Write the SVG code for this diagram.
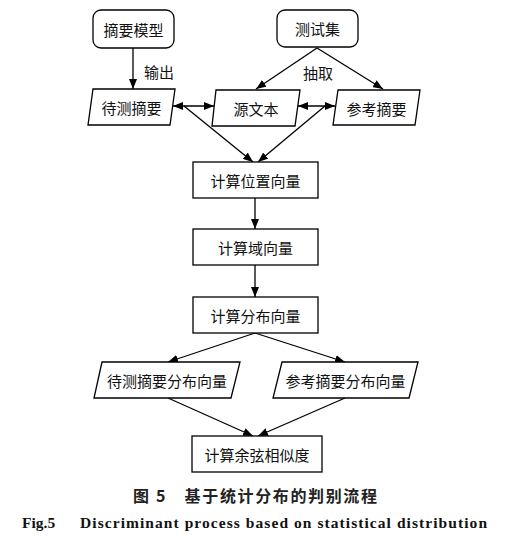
<svg xmlns="http://www.w3.org/2000/svg" width="505" height="543" viewBox="0 0 505 543">
<defs>
<marker id="ah" viewBox="0 0 10 8" refX="10" refY="4" markerWidth="10" markerHeight="8" markerUnits="userSpaceOnUse" orient="auto-start-reverse">
<path d="M0,0 L10,4 L0,8 Z" fill="#000"/>
</marker>
</defs>
<style>
.n{fill:#fff;stroke:#000;stroke-width:1.3}
.t{font-family:"Noto Sans CJK SC","Noto Sans",sans-serif;font-size:15px;fill:#111;text-anchor:middle;dominant-baseline:central}
.c line{stroke:#000;stroke-width:1.3}
</style>
<rect width="505" height="543" fill="#fff"/>
<g class="c">
<line x1="133" y1="48" x2="133" y2="89" marker-end="url(#ah)"/>
<line x1="317" y1="48" x2="256" y2="89" marker-end="url(#ah)"/>
<line x1="317" y1="48" x2="383" y2="89" marker-end="url(#ah)"/>
<line x1="173" y1="106" x2="214" y2="106" marker-start="url(#ah)" marker-end="url(#ah)"/>
<line x1="298" y1="106" x2="335" y2="106" marker-start="url(#ah)" marker-end="url(#ah)"/>
<line x1="184" y1="106" x2="253" y2="162" marker-end="url(#ah)"/>
<line x1="325" y1="106" x2="258" y2="162" marker-end="url(#ah)"/>
<line x1="255" y1="198" x2="255" y2="229" marker-end="url(#ah)"/>
<line x1="255" y1="265" x2="255" y2="297" marker-end="url(#ah)"/>
<line x1="255" y1="333" x2="168" y2="362" marker-end="url(#ah)"/>
<line x1="255" y1="333" x2="345" y2="362" marker-end="url(#ah)"/>
<line x1="168" y1="398" x2="253" y2="436" marker-end="url(#ah)"/>
<line x1="345" y1="398" x2="258" y2="436" marker-end="url(#ah)"/>
</g>
<text class="t" x="159" y="71">输出</text>
<text class="t" x="318" y="72">抽取</text>
<g id="n1"><rect class="n" x="93" y="10" width="81" height="38" rx="8"/><text class="t" x="133.5" y="29">摘要模型</text></g>
<g id="n2"><rect class="n" x="277" y="10" width="81" height="37" rx="8"/><text class="t" x="317.5" y="28.5">测试集</text></g>
<g id="n3"><polygon class="n" points="93,89 175,89 170,125 88,125"/><text class="t" x="131.5" y="107">待测摘要</text></g>
<g id="n4"><polygon class="n" points="216,90 300,90 295,126 212,126"/><text class="t" x="256" y="108">源文本</text></g>
<g id="n5"><polygon class="n" points="338,90 420,90 415,125 333,125"/><text class="t" x="376.5" y="108">参考摘要</text></g>
<g id="n6"><rect class="n" x="193" y="162" width="125" height="36"/><text class="t" x="255.5" y="180">计算位置向量</text></g>
<g id="n7"><rect class="n" x="193" y="229" width="125" height="36"/><text class="t" x="255.5" y="247">计算域向量</text></g>
<g id="n8"><rect class="n" x="193" y="297" width="125" height="36"/><text class="t" x="255.5" y="315">计算分布向量</text></g>
<g id="n9"><polygon class="n" points="102,362 240,362 231,398 94,398"/><text class="t" x="167" y="380">待测摘要分布向量</text></g>
<g id="n10"><polygon class="n" points="282,362 418,362 409,398 273,398"/><text class="t" x="345.5" y="380">参考摘要分布向量</text></g>
<g id="n11"><rect class="n" x="192" y="436" width="130" height="36"/><text class="t" x="257" y="454">计算余弦相似度</text></g>
<text x="133" y="495" font-family="Noto Sans CJK SC,sans-serif" font-size="16" font-weight="bold" fill="#222" textLength="244" lengthAdjust="spacing" dominant-baseline="central">图 5　基于统计分布的判别流程</text>
<text x="22" y="522" font-family="Liberation Serif,serif" font-size="15.5" font-weight="bold" fill="#111" dominant-baseline="central">Fig.5</text>
<text x="80" y="522" font-family="Liberation Serif,serif" font-size="15.5" font-weight="bold" fill="#111" textLength="407" lengthAdjust="spacing" dominant-baseline="central">Discriminant process based on statistical distribution</text>
</svg>
